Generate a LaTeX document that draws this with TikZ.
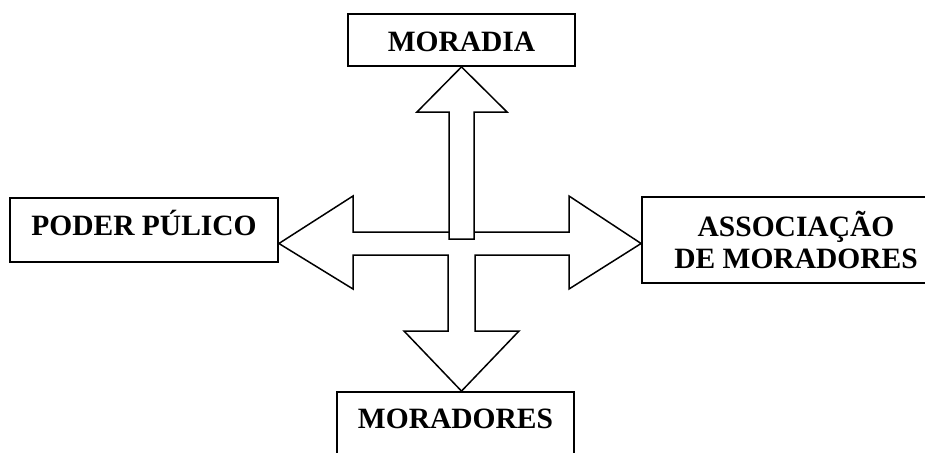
\documentclass[tikz,border=0pt]{standalone}
\usepackage{fontspec}
\setmainfont{Liberation Serif}

\begin{document}
\begin{tikzpicture}[x=1pt, y=-1pt,
                    boxnode/.style={rectangle, draw=black, line width=1.8pt, inner sep=0pt, align=center,
                                    font=\bfseries\fontsize{29.5}{32}\selectfont},
                    arrowline/.style={draw=black, line width=1.5pt, line join=miter}]
                    \clip (0,0) rectangle (925,452);
                    \useasboundingbox (0,0) rectangle (925,452);

                    \node[boxnode, minimum width=227pt, minimum height=52pt, text height=24pt, text depth=0pt] (moradia) at (461.5,40) {MORADIA};
                    \node[boxnode, minimum width=268pt, minimum height=64pt, text height=20pt, text depth=10pt] (poder) at (144,230) {PODER PÚLICO};
                    \node[boxnode, minimum width=308pt, minimum height=86pt] (assoc) at (796,240) {ASSOCIAÇÃO\\DE MORADORES};
                    \node[boxnode, minimum width=237pt, minimum height=78pt, text height=20pt, text depth=26pt] (moradores) at (455.5,431) {MORADORES};
                    \coordinate (hub) at (461.5,243.5);

                    \draw[arrowline] (poder.east |- hub) -- (353,196) -- (353,232) -- (569,232) -- (569,196) -- (assoc.west |- hub)
                        -- (569,289) -- (569,255) -- (475,255) -- (475,331) -- (519,331) -- (hub |- moradores.north)
                        -- (404,331) -- (448,331) -- (448,255) -- (353,255) -- (353,289) -- cycle;
                    \draw[arrowline, fill=white] (hub |- moradia.south) -- (507,112) -- (474,112) -- (474,239)
                        -- (449,239) -- (449,112) -- (417,112) -- cycle;
                    \end{tikzpicture}
\end{document}
